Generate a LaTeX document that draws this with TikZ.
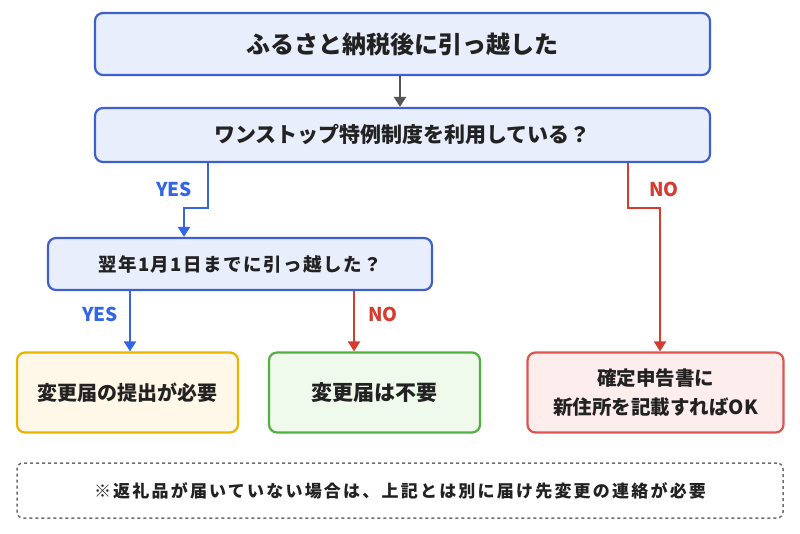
\documentclass[tikz,border=0pt]{standalone}
\usepackage{fontspec}
\setmainfont{Noto Sans CJK JP}
\usetikzlibrary{arrows.meta}
\definecolor{bluefill}{HTML}{E8EEFB}
\definecolor{blueline}{HTML}{3F5FCF}
\definecolor{yesc}{HTML}{3366E6}
\definecolor{noc}{HTML}{D63B30}
\definecolor{yelfill}{HTML}{FFF8E8}
\definecolor{yelline}{HTML}{E9B400}
\definecolor{grnfill}{HTML}{EFFAEC}
\definecolor{grnline}{HTML}{52B043}
\definecolor{redfill}{HTML}{FDEDED}
\definecolor{redline}{HTML}{DE5550}
\definecolor{txt}{HTML}{222222}
\definecolor{arrg}{HTML}{555555}
\begin{document}
\begin{tikzpicture}[x=1pt,y=-1pt,
  box/.style={draw,line width=2.2pt,rounded corners=8pt,align=center,text=txt,font=\bfseries,inner sep=0pt},
  qbox/.style={box,draw=blueline,fill=bluefill},
  lab/.style={font=\bfseries\fontsize{19}{22}\selectfont},
  conn/.style={line width=2.2pt,-{Triangle[width=12pt,length=10pt]}}
]
\useasboundingbox (0,0) rectangle (800,534);
\fill[white] (0,0) rectangle (800,534);
\node[qbox,minimum width=615pt,minimum height=62pt,font=\bfseries\fontsize{24}{28}\selectfont] (b1) at (402.5,44) {ふるさと納税後に引っ越した};
\node[qbox,minimum width=615pt,minimum height=54pt,font=\bfseries\fontsize{21}{25}\selectfont] (b2) at (402.5,135) {ワンストップ特例制度を利用している？};
\node[qbox,minimum width=384pt,minimum height=52pt,font=\bfseries\fontsize{18.5}{22}\selectfont\addfontfeature{LetterSpace=8}] (b3) at (240,264) {翌年1月1日までに引っ越した？};
\node[box,draw=yelline,fill=yelfill,minimum width=221pt,minimum height=80pt,font=\bfseries\fontsize{20}{24}\selectfont] (r1) at (127.5,392.5) {変更届の提出が必要};
\node[box,draw=grnline,fill=grnfill,minimum width=211pt,minimum height=80pt,font=\bfseries\fontsize{21}{25}\selectfont] (r2) at (374.5,392.5) {変更届は不要};
\node[box,draw=redline,fill=redfill,minimum width=256pt,minimum height=80pt,font=\bfseries\fontsize{19.5}{29}\selectfont] (r3) at (655.5,392.5) {確定申告書に\\新住所を記載すればOK};
\node[draw=arrg!85,dashed,line width=1.5pt,rounded corners=6pt,minimum width=766pt,minimum height=55pt,inner sep=0pt,text=txt,font=\bfseries\fontsize{17}{20}\selectfont\addfontfeature{LetterSpace=13}] (note) at (400,490.5) {※返礼品が届いていない場合は、上記とは別に届け先変更の連絡が必要};
% connectors
\draw[conn,draw=arrg] (b1.south -| 400,0) -- (b2.north -| 400,0);
\coordinate (ya) at (208,208);
\coordinate (yb) at (184,208);
\draw[conn,draw=yesc] (b2.south -| ya) -- (ya) -- (yb) -- (b3.north -| yb);
\coordinate (na) at (628,208);
\coordinate (nb) at (660,208);
\draw[conn,draw=noc] (b2.south -| na) -- (na) -- (nb) -- (r3.north -| nb);
\coordinate (yc) at (130,0);
\coordinate (nc) at (354,0);
\draw[conn,draw=yesc] (b3.south -| yc) -- (r1.north -| yc);
\draw[conn,draw=noc] (b3.south -| nc) -- (r2.north -| nc);
% labels
\node[lab,text=yesc] (ly1) at (174,189) {YES};
\node[lab,text=noc] (ln1) at (664,189) {NO};
\node[lab,text=yesc] (ly2) at (100,314) {YES};
\node[lab,text=noc] (ln2) at (383,314) {NO};
\end{tikzpicture}
\end{document}
